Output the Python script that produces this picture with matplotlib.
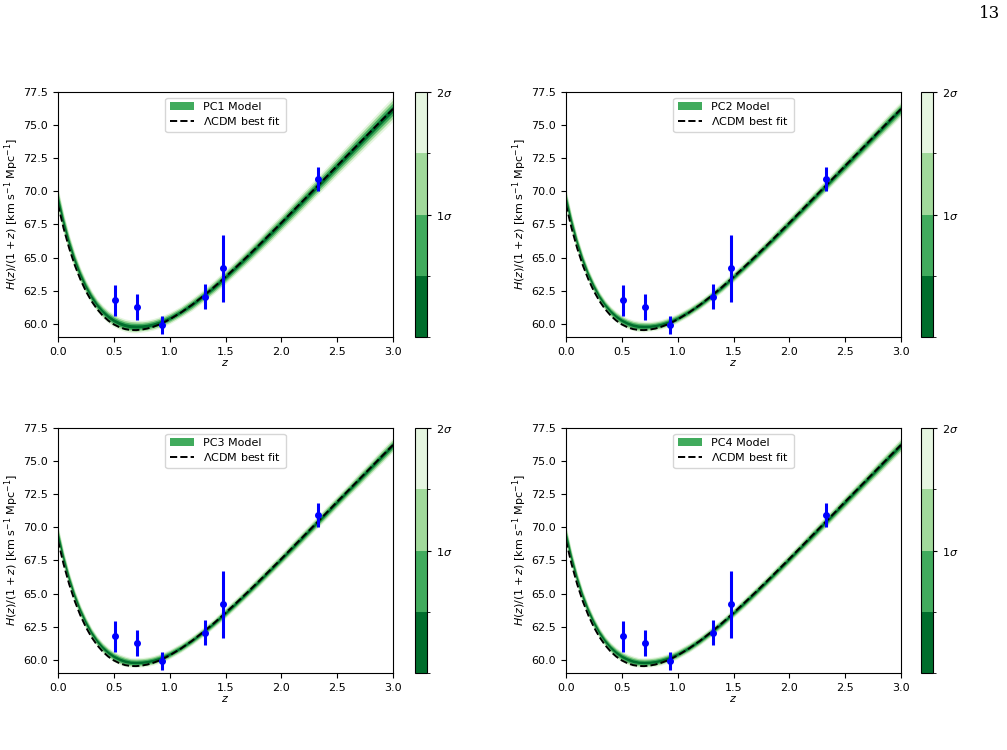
import matplotlib
matplotlib.use("Agg")
import matplotlib.pyplot as plt
import numpy as np
from matplotlib.colors import ListedColormap, BoundaryNorm
from matplotlib.patches import Patch
from matplotlib.lines import Line2D
import matplotlib.colorbar as mcolorbar

# ---------------- data ----------------
z_grid = [0.0, 0.05, 0.1, 0.15, 0.2, 0.25, 0.3, 0.35, 0.4, 0.45, 0.5, 0.55, 0.6,
          0.65, 0.7, 0.75, 0.8, 0.85, 0.9, 0.95, 1.0, 1.1, 1.2, 1.3, 1.4, 1.5,
          1.6, 1.7, 1.8, 1.9, 2.0, 2.1, 2.2, 2.3, 2.4, 2.5, 2.6, 2.7, 2.8, 2.9, 3.0]

lcdm_best = [69.00, 67.22, 65.71, 64.43, 63.36, 62.46, 61.71, 61.11, 60.62, 60.24,
             59.95, 59.74, 59.60, 59.53, 59.52, 59.56, 59.64, 59.76, 59.92, 60.11,
             60.33, 60.84, 61.43, 62.09, 62.79, 63.54, 64.32, 65.12, 65.94, 66.78,
             67.62, 68.48, 69.34, 70.20, 71.06, 71.93, 72.79, 73.65, 74.51, 75.37, 76.22]

model_center = [69.40, 67.60, 66.07, 64.77, 63.69, 62.78, 62.02, 61.41, 60.92, 60.54,
                60.25, 60.04, 59.89, 59.81, 59.79, 59.81, 59.86, 59.95, 60.08, 60.24,
                60.43, 60.90, 61.46, 62.10, 62.79, 63.54, 64.32, 65.12, 65.94, 66.78,
                67.62, 68.48, 69.34, 70.20, 71.06, 71.93, 72.79, 73.65, 74.51, 75.37, 76.22]

sigma_pc1 = [0.45, 0.40, 0.35, 0.32, 0.29, 0.27, 0.26, 0.24, 0.24, 0.24, 0.24, 0.24,
             0.24, 0.24, 0.24, 0.22, 0.22, 0.22, 0.22, 0.22, 0.22, 0.22, 0.24, 0.24,
             0.26, 0.27, 0.27, 0.29, 0.30, 0.32, 0.32, 0.34, 0.35, 0.35, 0.37, 0.38,
             0.40, 0.42, 0.43, 0.45, 0.46]
sigma_pc2 = [0.39, 0.35, 0.30, 0.27, 0.24, 0.23, 0.21, 0.20, 0.20, 0.20, 0.20, 0.20,
             0.20, 0.20, 0.20, 0.18, 0.18, 0.18, 0.18, 0.18, 0.18, 0.18, 0.18, 0.18,
             0.20, 0.20, 0.20, 0.21, 0.21, 0.23, 0.23, 0.23, 0.24, 0.24, 0.24, 0.26,
             0.26, 0.27, 0.27, 0.29, 0.29]
sigma_pc3 = [0.38, 0.33, 0.29, 0.26, 0.24, 0.23, 0.21, 0.20, 0.20, 0.20, 0.20, 0.20,
             0.20, 0.18, 0.18, 0.18, 0.18, 0.18, 0.18, 0.18, 0.18, 0.18, 0.18, 0.18,
             0.18, 0.20, 0.20, 0.20, 0.21, 0.21, 0.21, 0.23, 0.23, 0.23, 0.24, 0.24,
             0.24, 0.26, 0.26, 0.27, 0.27]
sigma_pc4 = [0.38, 0.33, 0.29, 0.26, 0.24, 0.23, 0.21, 0.20, 0.20, 0.20, 0.20, 0.20,
             0.20, 0.18, 0.18, 0.18, 0.18, 0.18, 0.18, 0.18, 0.18, 0.18, 0.18, 0.18,
             0.18, 0.18, 0.20, 0.20, 0.20, 0.21, 0.21, 0.21, 0.23, 0.23, 0.23, 0.24,
             0.24, 0.24, 0.26, 0.26, 0.27]

data_z = [0.51, 0.71, 0.93, 1.32, 1.48, 2.33]
data_h = [61.76, 61.28, 59.93, 62.03, 64.18, 70.96]
data_err = [1.15, 1.00, 0.68, 0.95, 2.54, 0.90]

panel_labels = ["PC1 Model", "PC2 Model", "PC3 Model", "PC4 Model"]
panel_sigmas = [sigma_pc1, sigma_pc2, sigma_pc3, sigma_pc4]

level_bounds = [0.0, 0.5, 1.0, 1.5, 2.0]
level_colors = ["#006d2c", "#41ab5d", "#a1d99b", "#e5f5e0"]
cbar_ticks = [1, 2]
cbar_ticklabels = [r"$1\sigma$", r"$2\sigma$"]

x_ticks = [0.0, 0.5, 1.0, 1.5, 2.0, 2.5, 3.0]
y_ticks = [60.0, 62.5, 65.0, 67.5, 70.0, 72.5, 75.0, 77.5]

# ---------------- figure ----------------
W, H = 1007, 750
fig = plt.figure(figsize=(W / 100, H / 100), dpi=100)

def fx(px):
    return px / W

def fy(py):
    return 1 - py / H

ax_boxes = [(58, 92, 393, 337), (566, 92, 901, 337),
            (58, 428, 393, 673), (566, 428, 901, 673)]
cb_boxes = [(415, 427), (921, 933)]

z = np.array(z_grid)
cmap = ListedColormap(level_colors)
norm = BoundaryNorm(level_bounds, cmap.N)

for i, (lbl, sig) in enumerate(zip(panel_labels, panel_sigmas)):
    x0, y0, x1, y1 = ax_boxes[i]
    ax = fig.add_axes([fx(x0), fy(y1), fx(x1 - x0), (y1 - y0) / H])
    c = np.array(model_center)
    s = np.array(sig)
    # nested confidence bands, widest (lightest) first
    for k in range(len(level_colors) - 1, -1, -1):
        hw = level_bounds[k + 1]
        ax.fill_between(z, c - hw * s, c + hw * s, color=level_colors[k], lw=0)
    ax.plot(z_grid, lcdm_best, color="black", ls="--", lw=1.4)
    ax.errorbar(data_z, data_h, yerr=data_err, fmt="o", color="blue",
                ms=4, elinewidth=2.2, capsize=0, zorder=5)
    ax.set_xlim(0, 3.0)
    ax.set_ylim(59.0, 77.5)
    ax.set_xticks(x_ticks)
    ax.set_yticks(y_ticks)
    ax.tick_params(labelsize=8, length=3.5, width=0.8)
    ax.set_xlabel(r"$z$", fontsize=8, labelpad=1)
    ax.set_ylabel(r"$H(z)/(1+z)$ [km s$^{-1}$ Mpc$^{-1}$]", fontsize=8, labelpad=2)
    handles = [Patch(facecolor=level_colors[1], edgecolor="none"),
               Line2D([0], [0], color="black", ls="--", lw=1.4)]
    ax.legend(handles, [lbl, r"$\Lambda$CDM best fit"], loc="upper center",
              fontsize=8, frameon=True, handlelength=2.2, borderpad=0.4,
              labelspacing=0.3)

    cx0, cx1 = cb_boxes[i % 2]
    cax = fig.add_axes([fx(cx0), fy(y1), fx(cx1 - cx0), (y1 - y0) / H])
    cb = mcolorbar.ColorbarBase(cax, cmap=cmap, norm=norm,
                                boundaries=level_bounds, ticks=cbar_ticks)
    cb.set_ticklabels(cbar_ticklabels)
    cb.outline.set_linewidth(0.8)
    cax.tick_params(labelsize=8, length=3, width=0.8)

fig.text(fx(1000), fy(14), "13", fontsize=12, family="DejaVu Serif",
         ha="right", va="center")

fig.savefig("out.png", dpi=100)
